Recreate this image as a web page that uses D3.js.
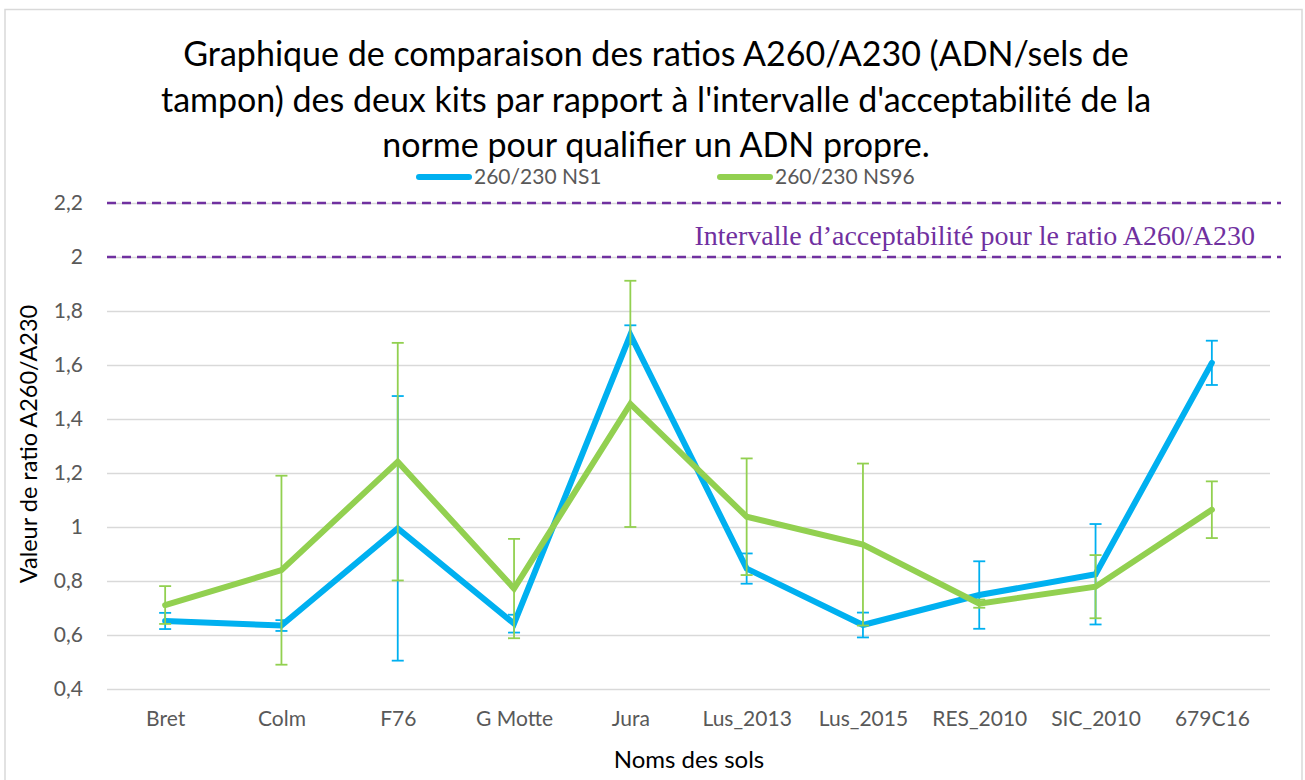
<!DOCTYPE html>
<html>
<head>
<meta charset="utf-8">
<script src="https://cdn.jsdelivr.net/npm/d3@7"></script>
<style>
  body { margin: 0; background: #fff; }
  svg { display: block; }
</style>
</head>
<body>
<div id="chart"></div>
<script>
// data
const soils = ['Bret', 'Colm', 'F76', 'G Motte', 'Jura', 'Lus_2013', 'Lus_2015', 'RES_2010', 'SIC_2010', '679C16']
const ns1 = [0.652, 0.635, 0.995, 0.642, 1.712, 0.846, 0.637, 0.748, 0.825, 1.608]
const ns1Err = [0.03, 0.02, 0.49, 0.033, 0.035, 0.056, 0.046, 0.125, 0.186, 0.082]
const ns96 = [0.711, 0.840, 1.242, 0.772, 1.456, 1.038, 0.935, 0.716, 0.779, 1.064]
const ns96Err = [0.07, 0.35, 0.44, 0.184, 0.456, 0.216, 0.30, 0.015, 0.117, 0.105]
const yTicks = [0.4, 0.6, 0.8, 1, 1.2, 1.4, 1.6, 1.8, 2, 2.2]
const limits = [2, 2.2]

const W = 1305, H = 780
const margin = {left: 107, right: 35, top: 203, bottom: 91}
const font = 'Lato, "Open Sans", sans-serif'

const svg = d3.select('#chart').append('svg')
  .attr('width', W)
  .attr('height', H)

svg.append('rect')
  .attr('x', 5).attr('y', 9.5)
  .attr('width', 1297).attr('height', 780)
  .attr('fill', 'none')
  .attr('stroke', '#d9d9d9')
  .attr('stroke-width', 1.5)

const x = d3.scalePoint()
  .domain(soils)
  .range([margin.left, W - margin.right])
  .padding(0.5)

const y = d3.scaleLinear()
  .domain([0.4, 2.2])
  .range([H - margin.bottom, margin.top])

const fr = d3.formatLocale({decimal: ',', thousands: ' ', grouping: [3], currency: ['', '€']})
const fmt = fr.format('~g')

// grid + y labels
const yAxis = svg.append('g')
  .attr('transform', `translate(${margin.left},0)`)
  .call(d3.axisLeft(y).tickValues(yTicks).tickFormat(fmt)
    .tickSize(-(W - margin.left - margin.right)).tickPadding(24))
yAxis.select('.domain').remove()
yAxis.selectAll('.tick line')
  .attr('stroke', '#d9d9d9')
  .attr('stroke-width', 1.5)
yAxis.selectAll('.tick text')
  .attr('fill', '#595959')
  .attr('font-family', font)
  .attr('font-size', 21)

// x labels
const xAxis = svg.append('g')
  .attr('transform', `translate(0,${H - margin.bottom})`)
  .call(d3.axisBottom(x).tickSize(0).tickPadding(22))
xAxis.select('.domain').remove()
xAxis.selectAll('.tick text')
  .attr('fill', '#595959')
  .attr('font-family', font)
  .attr('font-size', 21)

// acceptability interval
svg.selectAll('.limit')
  .data(limits)
  .enter()
  .append('line')
  .attr('class', 'limit')
  .attr('x1', margin.left)
  .attr('x2', 1281)
  .attr('y1', (d) => y(d))
  .attr('y2', (d) => y(d))
  .attr('stroke', '#7030a0')
  .attr('stroke-width', 2.4)
  .attr('stroke-dasharray', '9,6')

svg.append('text')
  .attr('x', 1255)
  .attr('y', 245)
  .attr('text-anchor', 'end')
  .attr('fill', '#7030a0')
  .attr('font-family', '"Liberation Serif", "DejaVu Serif", serif')
  .attr('font-size', 28)
  .text('Intervalle d’acceptabilité pour le ratio A260/A230')

const series = [
  {name: '260/230 NS1', values: ns1, err: ns1Err, color: '#00b0f0'},
  {name: '260/230 NS96', values: ns96, err: ns96Err, color: '#92d050'}
]

const line = d3.line()
  .x((d, i) => x(soils[i]))
  .y((d) => y(d))

series.forEach((s) => {
  const g = svg.append('g')
  g.append('path')
    .datum(s.values)
    .attr('d', line)
    .attr('fill', 'none')
    .attr('stroke', s.color)
    .attr('stroke-width', 6)
    .attr('stroke-linejoin', 'miter')
    .attr('stroke-linecap', 'round')

  const eb = g.selectAll('.err')
    .data(s.values.map((v, i) => ({v, e: s.err[i], c: soils[i]})))
    .enter()
    .append('g')
    .attr('stroke', s.color)
    .attr('stroke-width', 1.8)
  eb.append('line')
    .attr('x1', (d) => x(d.c)).attr('x2', (d) => x(d.c))
    .attr('y1', (d) => y(d.v - d.e)).attr('y2', (d) => y(d.v + d.e))
  eb.append('line')
    .attr('x1', (d) => x(d.c) - 6).attr('x2', (d) => x(d.c) + 6)
    .attr('y1', (d) => y(d.v + d.e)).attr('y2', (d) => y(d.v + d.e))
  eb.append('line')
    .attr('x1', (d) => x(d.c) - 6).attr('x2', (d) => x(d.c) + 6)
    .attr('y1', (d) => y(d.v - d.e)).attr('y2', (d) => y(d.v - d.e))
})

// title
const titleLines = [
  'Graphique de comparaison des ratios A260/A230 (ADN/sels de',
  'tampon) des deux kits par rapport à l\'intervalle d\'acceptabilité de la',
  'norme pour qualifier un ADN propre.'
]
svg.append('text')
  .attr('text-anchor', 'middle')
  .attr('font-family', font)
  .attr('font-size', 34)
  .attr('fill', '#000')
  .selectAll('tspan')
  .data(titleLines)
  .enter()
  .append('tspan')
  .attr('x', 656)
  .attr('y', (d, i) => 66 + i * 45.5)
  .text((d) => d)

// legend
const legend = svg.append('g')
  .selectAll('g')
  .data(series)
  .enter()
  .append('g')
  .attr('transform', (d, i) => `translate(${416 + i * 301},177)`)
legend.append('line')
  .attr('x1', 3).attr('x2', 53)
  .attr('stroke', (d) => d.color)
  .attr('stroke-width', 6)
  .attr('stroke-linecap', 'round')
legend.append('text')
  .attr('x', 58)
  .attr('y', 7)
  .attr('fill', '#595959')
  .attr('font-family', font)
  .attr('font-size', 21)
  .text((d) => d.name)

// axis titles
svg.append('text')
  .attr('transform', 'translate(37,444) rotate(-90)')
  .attr('text-anchor', 'middle')
  .attr('font-family', font)
  .attr('font-size', 23.5)
  .text('Valeur de ratio A260/A230')

svg.append('text')
  .attr('x', 689)
  .attr('y', 768)
  .attr('text-anchor', 'middle')
  .attr('font-family', font)
  .attr('font-size', 24)
  .text('Noms des sols')
</script>
</body>
</html>
